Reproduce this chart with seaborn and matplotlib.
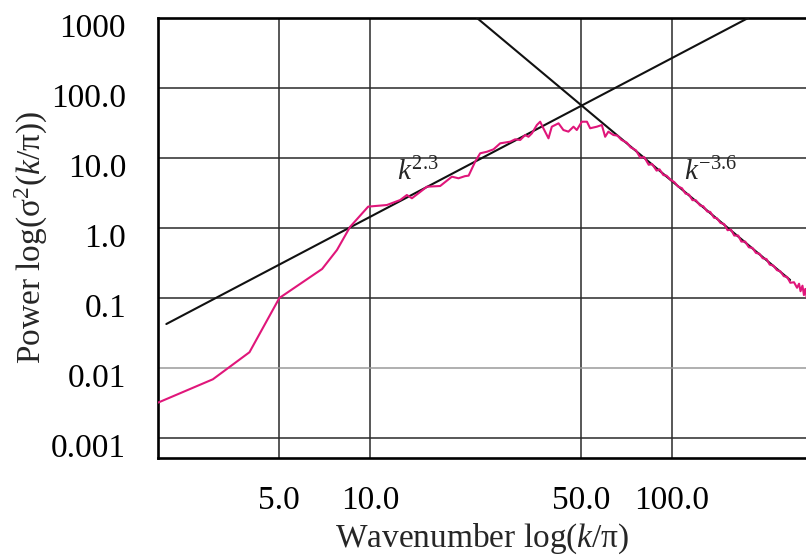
import matplotlib
matplotlib.use('Agg')
import matplotlib.pyplot as plt
import seaborn as sns
from matplotlib.transforms import ScaledTranslation
from matplotlib.ticker import FixedLocator, FixedFormatter, NullLocator

# ---- data ----
wavenumber = [1.98, 3.01, 3.98, 5.0, 6.93, 7.76, 8.58, 9.85, 11.36, 12.57, 13.23, 13.75,
              14.45, 15.42, 17.06, 18.66, 19.62, 20.6, 21.2, 22.28, 23.15, 24.4, 25.63,
              26.97, 29.1, 30.24, 31.42, 32.64, 33.47, 34.36, 35.69, 36.6, 37.5, 39.0,
              40.0, 42.1, 43.7, 45.4, 47.2, 48.4, 50.3, 52.3, 53.6, 56.4, 58.6, 60.1,
              61.6, 64.0, 66.0, 68.0, 71.0, 73.0, 76.0, 78.6, 81.0, 83.8, 86.0, 89.0,
              91.0, 93.7, 96.0, 99.0, 102.0, 105.0, 108.0, 111.0, 114.0, 117.0, 120.0,
              124.0, 127.0, 131.0, 134.0, 138.0, 141.0, 145.0, 149.0, 153.0, 157.0,
              161.0, 166.0, 170.0, 175.0, 180.0, 185.0, 190.0, 195.0, 200.0, 206.0,
              211.0, 217.0, 223.0, 229.0, 235.0, 241.0, 247.0, 254.0, 260.0, 264.0,
              267.0, 271.0, 274.0, 277.0, 280.0, 284.0]
power = [0.0032, 0.0069, 0.0168, 0.10, 0.26, 0.485, 1.04, 2.02, 2.13, 2.51, 2.96, 2.66,
         3.13, 3.89, 3.98, 5.41, 5.13, 5.5, 5.6, 8.85, 11.67, 12.3, 13.3,
         16.2, 17.1, 18.5, 18.07, 21.3, 20.1, 22.5, 29.6, 33.0, 26.6, 19.1,
         28.0, 31.3, 25.1, 23.8, 28.0, 25.1, 33.0, 33.0, 26.6, 28.0, 29.6, 20.1,
         23.8, 21.3, 20.9, 18.2, 16.5, 14.2, 12.9, 10.1, 10.3, 8.0, 8.2, 6.6,
         6.9, 5.7, 5.6, 4.9, 4.5, 3.9, 3.7, 3.1, 3.0, 2.5, 2.5,
         2.1, 2.05, 1.72, 1.70, 1.40, 1.38, 1.18, 1.14, 0.93, 0.95,
         0.78, 0.78, 0.64, 0.64, 0.53, 0.52, 0.44, 0.43, 0.37, 0.36,
         0.30, 0.29, 0.25, 0.24, 0.205, 0.20, 0.165, 0.168, 0.14, 0.16,
         0.125, 0.15, 0.11, 0.135, 0.10, 0.13]

fit_low_k = [2.11, 179.0]       # k^2.3 line end points
fit_low_p = [0.0425, 1000.0]
fit_high_k = [22.6, 246.6]      # k^-3.6 line end points
fit_high_p = [1000.0, 0.181]

x_ticks = [5, 10, 50, 100]
x_tick_labels = ['5.0', '10.0', '50.0', '100.0']
y_ticks = [0.001, 0.01, 0.1, 1, 10, 100, 1000]
y_tick_labels = ['0.001', '0.01', '0.1', '1.0', '10.0', '100.0', '1000']

# ---- style ----
sns.set_style('white')
plt.rcParams['font.family'] = ['Liberation Serif', 'DejaVu Serif']
plt.rcParams['mathtext.fontset'] = 'custom'
plt.rcParams['mathtext.rm'] = 'Liberation Serif'
plt.rcParams['mathtext.it'] = 'Liberation Serif:italic'

fig = plt.figure(figsize=(8.06, 5.58), dpi=100)
ax = fig.add_axes([158 / 806, 100 / 558, 657.8 / 806, 440 / 558])
ax.set_xscale('log')
ax.set_yscale('log')

sns.lineplot(x=fit_low_k, y=fit_low_p, ax=ax, color='#111111', lw=1.5,
             estimator=None, sort=False, zorder=3)
sns.lineplot(x=fit_high_k, y=fit_high_p, ax=ax, color='#111111', lw=1.5,
             estimator=None, sort=False, zorder=3)
sns.lineplot(x=wavenumber, y=power, ax=ax, color='#e0167a', lw=1.5,
             estimator=None, sort=False, zorder=4)

ax.set_xlim(1.98, 300)
ax.set_ylim(5.18e-4, 1000)

ax.xaxis.set_major_locator(FixedLocator(x_ticks))
ax.xaxis.set_major_formatter(FixedFormatter(x_tick_labels))
ax.xaxis.set_minor_locator(NullLocator())
ax.yaxis.set_major_locator(FixedLocator(y_ticks))
ax.yaxis.set_major_formatter(FixedFormatter(y_tick_labels))
ax.yaxis.set_minor_locator(NullLocator())

ax.set_axisbelow(True)
ax.grid(True, which='major', color='#2a2a2a', lw=1.1)
for i, gl in enumerate(ax.get_ygridlines()):
    if y_ticks[i] == 0.01:
        gl.set_color('#9a9a9a')

ax.tick_params(axis='both', length=0, labelsize=24, colors='black')
ax.tick_params(axis='y', pad=23)
ax.tick_params(axis='x', pad=20)

offset = ScaledTranslation(0, -7 / 100, fig.dpi_scale_trans)
for lab in ax.get_yticklabels():
    lab.set_transform(lab.get_transform() + offset)

for side in ['left', 'top', 'bottom']:
    ax.spines[side].set_visible(True)
    ax.spines[side].set_linewidth(1.9)
    ax.spines[side].set_color('black')
ax.spines['right'].set_visible(False)

ax.set_xlabel('Wavenumber log($k$/π)', fontsize=24, ha='center', va='center')
ax.xaxis.set_label_coords((482.5 - 158) / 657.8, (458 - 539) / 440)
ax.set_ylabel('Power log(σ$^2$($k$/π))', fontsize=24, ha='center', va='center')
ax.yaxis.set_label_coords((31 - 158) / 657.8, 0.5)

ax.text(14.4, 6.3, '$k^{2.3}$', fontsize=21, ha='center', va='center', zorder=5)
ax.text(134.9, 6.3, '$k^{-3.6}$', fontsize=21, ha='center', va='center', zorder=5)

fig.savefig('out.png', dpi=100)
